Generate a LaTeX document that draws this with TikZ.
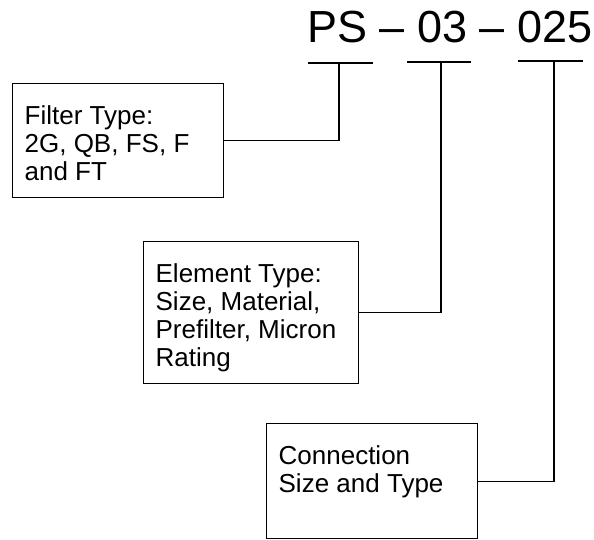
\documentclass[tikz,border=0pt]{standalone}
\usepackage{fontspec}
\setmainfont{Liberation Sans}
\usetikzlibrary{positioning}
\newcommand{\boxtext}[3]{\parbox[c][#1][t]{#2}{\raggedright #3}}

\begin{document}
\begin{tikzpicture}
    % 方框与连线的样式
    [box/.style={draw, line width=0.9pt, anchor=north west, inner xsep=0.3cm, inner ysep=0.55cm, font=\fontsize{18.5}{20}\selectfont},
    link/.style={line width=0.9pt},
    title/.style={anchor=base, inner sep=0pt, font=\fontsize{32}{38}\selectfont}]
    \useasboundingbox (0, 0) rectangle (14.85, 13.475);
    % 绘制型号
    \node[title] (code) at (11.25, 12.4) {PS – 03 – 025};
    % 绘制下划线
    \coordinate (bar1) at (8.475, 11.9);
    \coordinate (bar2) at (11.025, 11.925);
    \coordinate (bar3) at (13.85, 11.95);
    \draw[link] ([xshift=-0.775cm]bar1) -- ([xshift=0.85cm]bar1);
    \draw[link] ([xshift=-0.85cm]bar2) -- ([xshift=0.75cm]bar2);
    \draw[link] ([xshift=-0.9cm]bar3) -- ([xshift=0.725cm]bar3);
    % 绘制方框
    \node[box] (filter) at (0.3, 11.4) {\boxtext{1.75cm}{4.675cm}{Filter Type:\\2G, QB, FS, F\\and FT}};
    \node[box] (element) at (3.575, 7.45) {\boxtext{2.45cm}{4.775cm}{Element Type:\\Size, Material,\\Prefilter, Micron\\Rating}};
    \node[box] (connect) at (6.65, 2.9) {\boxtext{1.775cm}{4.675cm}{Connection\\Size and Type}};
    % 绘制连线
    \draw[link] (filter.east) -| (bar1);
    \draw[link] (element.east) -| (bar2);
    \draw[link] (connect.east) -| (bar3);
\end{tikzpicture}
\end{document}
